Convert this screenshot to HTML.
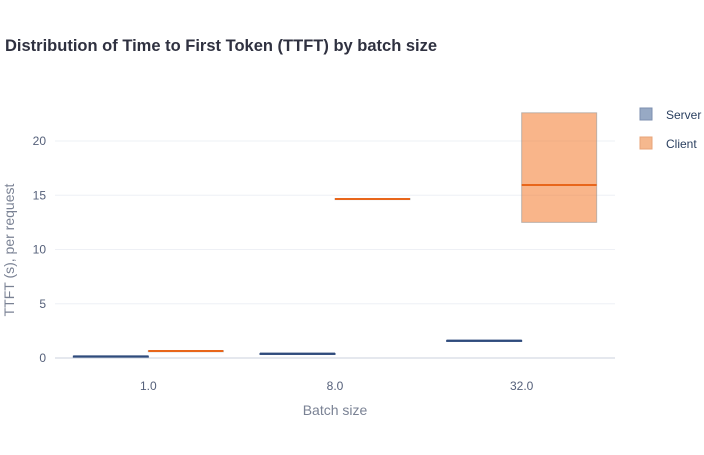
<!DOCTYPE html>
<html><head><meta charset="utf-8"><style>
body{margin:0;background:#fff;font-family:"Liberation Sans",sans-serif;}
svg text{font-family:"Liberation Sans",sans-serif;}
</style></head><body>
<svg id="chart" width="704" height="450">
<text x="5" y="51" font-size="16.5" font-weight="bold" fill="#2f3140">Distribution of Time to First Token (TTFT) by batch size</text>
<g id="grid"></g><g id="marks"></g><g id="axes"></g>
<g>
<g><rect x="640" y="108" width="12" height="12" fill="#97a9c4" stroke="#7c8faf"/><text x="666" y="119" font-size="12" fill="#2a3f5f">Server</text></g>
<g><rect x="640" y="137" width="12" height="12" fill="#f5b88e" stroke="#e8a57a"/><text x="666" y="148" font-size="12" fill="#2a3f5f">Client</text></g>
</g>
<text x="335" y="415" font-size="14" fill="#7a8294" text-anchor="middle">Batch size</text>
<text transform="translate(14,250) rotate(-90)" font-size="14" fill="#7a8294" text-anchor="middle">TTFT (s), per request</text>
</svg>
<script>
const categories=["1.0","8.0","32.0"];
const serverQ1=[0.13,0.38,1.58];
const serverMedian=[0.15,0.4,1.6];
const serverQ3=[0.17,0.42,1.62];
const clientQ1=[0.63,14.6,12.5];
const clientMedian=[0.65,14.65,15.95];
const clientQ3=[0.67,14.7,22.6];
const yTicks=[0,5,10,15,20];
const NS="http://www.w3.org/2000/svg";
const x0=55,x1=615,y0px=358,pxPerUnit=10.85;
const y=v=>y0px-v*pxPerUnit;
const band=(x1-x0)/categories.length;
const xc=i=>x0+band*(i+0.5);
function mk(tag,attrs,parent){const e=document.createElementNS(NS,tag);for(const k in attrs)e.setAttribute(k,attrs[k]);document.getElementById(parent).appendChild(e);return e;}
yTicks.forEach(t=>{
 const l=mk('line',{x1:x0,x2:x1,y1:y(t),y2:y(t),stroke:t===0?'#e5e8ee':'#eef0f5','stroke-width':t===0?2:1},'grid');
 
 
 const tx=mk('text',{x:46,y:y(t)+4,'font-size':12,fill:'#55607a','text-anchor':'end'},'axes');tx.textContent=t;
 
 
});
categories.forEach((c,i)=>{
 const tx=mk('text',{x:xc(i),y:390,'font-size':12,fill:'#55607a','text-anchor':'middle'},'axes');tx.textContent=c;
 
 
 const w=75;
 [[serverQ1,serverMedian,serverQ3,xc(i)-w,'rgba(47,75,124,0.5)','#2f4b7c','#2f4b7c','server'],
  [clientQ1,clientMedian,clientQ3,xc(i),'rgba(244,121,41,0.55)','rgba(150,150,150,0.6)','#e8661b','client']].forEach(s=>{
  const [q1,md,q3,xl,fill,stroke,medc,name]=s;
  const r=mk('rect',{x:xl,y:y(q3[i]),width:w,height:Math.max(1,y(q1[i])-y(q3[i])),fill:fill,stroke:stroke,'stroke-width':1},'marks');
  
  
  const m=mk('line',{x1:xl,x2:xl+w,y1:y(md[i]),y2:y(md[i]),stroke:medc,'stroke-width':2},'marks');
  
  
 });
});
</script>
</body></html>
